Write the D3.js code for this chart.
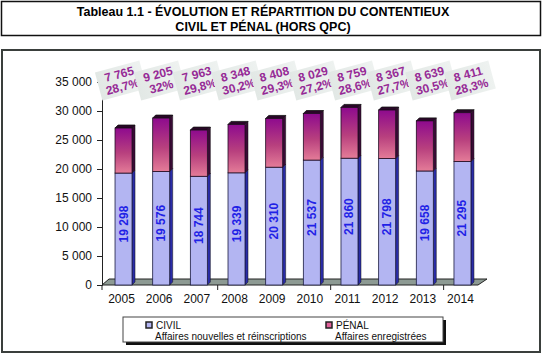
<!DOCTYPE html>
<html>
<head>
<meta charset="utf-8">
<script src="https://cdn.jsdelivr.net/npm/d3@7"></script>
<style>
  body { margin: 0; background: #fff; }
  svg { display: block; font-family: "Liberation Sans", Arial, sans-serif; }
</style>
</head>
<body>
<svg id="chart" width="543" height="355"></svg>
<script>
// data
const years = ["2005", "2006", "2007", "2008", "2009", "2010", "2011", "2012", "2013", "2014"];
const civil = [19298, 19576, 18744, 19339, 20310, 21537, 21860, 21798, 19658, 21295];
const penal = [7765, 9205, 7963, 8348, 8408, 8029, 8759, 8367, 8639, 8411];
const penalPct = ["28,7%", "32%", "29,8%", "30,2%", "29,3%", "27,2%", "28,6%", "27,7%", "30,5%", "28,3%"];
const yTicks = [0, 5000, 10000, 15000, 20000, 25000, 30000, 35000];

const svg = d3.select("#chart");
const fmt = v => d3.format(",")(v).replace(",", " ");

// gradients
const defs = svg.append("defs");
let g1 = defs.append("linearGradient").attr("id", "penalGrad")
    .attr("x1", 0).attr("y1", 0).attr("x2", 0).attr("y2", 1);
g1.append("stop").attr("offset", "0%").attr("stop-color", "#8e0a8e");
g1.append("stop").attr("offset", "55%").attr("stop-color", "#b8407e");
g1.append("stop").attr("offset", "100%").attr("stop-color", "#e47c98");
let g2 = defs.append("linearGradient").attr("id", "labelGrad")
    .attr("x1", 0).attr("y1", 0).attr("x2", 1).attr("y2", 0);
g2.append("stop").attr("offset", "0%").attr("stop-color", "#e2e8e5");
g2.append("stop").attr("offset", "100%").attr("stop-color", "#eef2f0");

// title box
svg.append("rect").attr("x", 1.5).attr("y", 1.5).attr("width", 539).attr("height", 34)
    .attr("fill", "#fff").attr("stroke", "#111").attr("stroke-width", 1.5);
svg.append("text").attr("x", 263).attr("y", 16).attr("text-anchor", "middle")
    .attr("font-weight", "bold").attr("font-size", 12.5)
    .text("Tableau 1.1 - ÉVOLUTION ET RÉPARTITION DU CONTENTIEUX");
svg.append("text").attr("x", 263).attr("y", 31).attr("text-anchor", "middle")
    .attr("font-weight", "bold").attr("font-size", 12.5)
    .text("CIVIL ET PÉNAL (HORS QPC)");

// chart frame
svg.append("rect").attr("x", 2).attr("y", 50).attr("width", 538).attr("height", 302)
    .attr("fill", "#fff").attr("stroke", "#3a3f3c").attr("stroke-width", 2);

// scales
const y = d3.scaleLinear().domain([0, 35000]).range([285, 82]);
const x = d3.scaleBand().domain(years).range([104.7, 481.3]);
const xl = d3.scalePoint().domain(years).range([121, 470]);
const bw = 17, dx = 3, dy = 3;

// floor
svg.append("polygon")
    .attr("points", [[102, 285], [478, 285], [487, 279], [109, 279]].join(" "))
    .attr("fill", "#8d9a93").attr("stroke", "#222").attr("stroke-width", 1);

// y axis
const yAxis = d3.axisLeft(y).tickValues(yTicks).tickSize(5).tickPadding(5)
    .tickFormat(d => fmt(d));
const ya = svg.append("g").attr("transform", "translate(102,0)").call(yAxis);
ya.select(".domain").attr("stroke", "#222");
ya.selectAll(".tick line").attr("stroke", "#222");
ya.selectAll(".tick text").attr("font-size", 12).attr("fill", "#111")
    .attr("font-family", "Liberation Sans, Arial, sans-serif");

// x axis ticks every 3 categories
const xTickPos = [102, ...["2007", "2010", "2013"].map(d => x(d) + x.bandwidth())];
svg.selectAll(".xtick").data(xTickPos).enter().append("line")
    .attr("x1", d => d).attr("x2", d => d).attr("y1", 285).attr("y2", 290)
    .attr("stroke", "#222");
svg.selectAll(".year").data(years).enter().append("text")
    .attr("x", d => x(d) + x.bandwidth() / 2 - 2).attr("y", 303)
    .attr("text-anchor", "middle").attr("font-size", 12).attr("fill", "#111")
    .text(d => d);

// bars
const bars = svg.selectAll(".bar").data(years).enter().append("g")
    .attr("transform", d => `translate(${x(d) + x.bandwidth() / 2 - bw / 2},0)`);

// civil segment
bars.append("polygon")
    .attr("points", (d, i) => [[bw, y(civil[i])], [bw + dx, y(civil[i]) - dy], [bw + dx, y(0) - dy], [bw, y(0)]].join(" "))
    .attr("fill", "#2a2ca8").attr("stroke", "#111").attr("stroke-width", 0.5);
bars.append("rect")
    .attr("x", 0).attr("y", (d, i) => y(civil[i])).attr("width", bw)
    .attr("height", (d, i) => y(0) - y(civil[i]))
    .attr("fill", "#b3b5f2").attr("stroke", "#1a1a40").attr("stroke-width", 0.8);

// penal segment
const topY = i => y(civil[i] + penal[i]);
bars.append("polygon")
    .attr("points", (d, i) => [[bw, topY(i)], [bw + dx, topY(i) - dy], [bw + dx, y(civil[i]) - dy], [bw, y(civil[i])]].join(" "))
    .attr("fill", "#3a0a36").attr("stroke", "#111").attr("stroke-width", 0.5);
bars.append("polygon")
    .attr("points", (d, i) => [[0, topY(i)], [dx, topY(i) - dy], [bw + dx, topY(i) - dy], [bw, topY(i)]].join(" "))
    .attr("fill", "#2a0628").attr("stroke", "#111").attr("stroke-width", 0.8);
bars.append("rect")
    .attr("x", 0).attr("y", (d, i) => topY(i)).attr("width", bw)
    .attr("height", (d, i) => y(civil[i]) - topY(i))
    .attr("fill", "url(#penalGrad)").attr("stroke", "#200a20").attr("stroke-width", 0.8);

// civil value labels
bars.append("text")
    .attr("transform", (d, i) => `translate(${bw / 2 + 4},${(y(civil[i]) + y(0)) / 2 - 5}) rotate(-90)`)
    .attr("text-anchor", "middle").attr("font-size", 12).attr("font-weight", "bold")
    .attr("fill", "#1f22e6")
    .text((d, i) => fmt(civil[i]));

// penal labels
const lab = svg.selectAll(".plab").data(years).enter().append("g")
    .attr("transform", d => `translate(${xl(d)},81) rotate(-15)`);
lab.append("rect").attr("x", -23).attr("y", -15).attr("width", 46).attr("height", 29)
    .attr("fill", "url(#labelGrad)");
lab.append("text").attr("x", 0).attr("y", -3).attr("text-anchor", "middle")
    .attr("font-size", 12).attr("font-weight", "bold").attr("fill", "#962a96")
    .text((d, i) => fmt(penal[i]));
lab.append("text").attr("x", 0).attr("y", 10).attr("text-anchor", "middle")
    .attr("font-size", 12).attr("font-weight", "bold").attr("fill", "#962a96")
    .text((d, i) => penalPct[i]);

// legend
svg.append("rect").attr("x", 126).attr("y", 320).attr("width", 320).attr("height", 25).attr("fill", "#111");
svg.append("rect").attr("x", 123).attr("y", 317).attr("width", 320).attr("height", 25)
    .attr("fill", "#fff").attr("stroke", "#444").attr("stroke-width", 1);
const legend = [
    {name: "CIVIL", sub: "Affaires nouvelles et réinscriptions", fill: "#b3b5f2", x: 146},
    {name: "PÉNAL", sub: "Affaires enregistrées", fill: "#e0609a", x: 326}
];
const lg = svg.selectAll(".lg").data(legend).enter().append("g")
    .attr("transform", d => `translate(${d.x},0)`);
lg.append("rect").attr("x", 0).attr("y", 322).attr("width", 6).attr("height", 6)
    .attr("fill", d => d.fill).attr("stroke", "#222").attr("stroke-width", 1.5);
lg.append("text").attr("x", 10).attr("y", 328.5).attr("font-size", 10).attr("fill", "#111")
    .text(d => d.name);
lg.append("text").attr("x", 9).attr("y", 339.5).attr("font-size", 10).attr("fill", "#111")
    .text(d => d.sub);
</script>
</body>
</html>
